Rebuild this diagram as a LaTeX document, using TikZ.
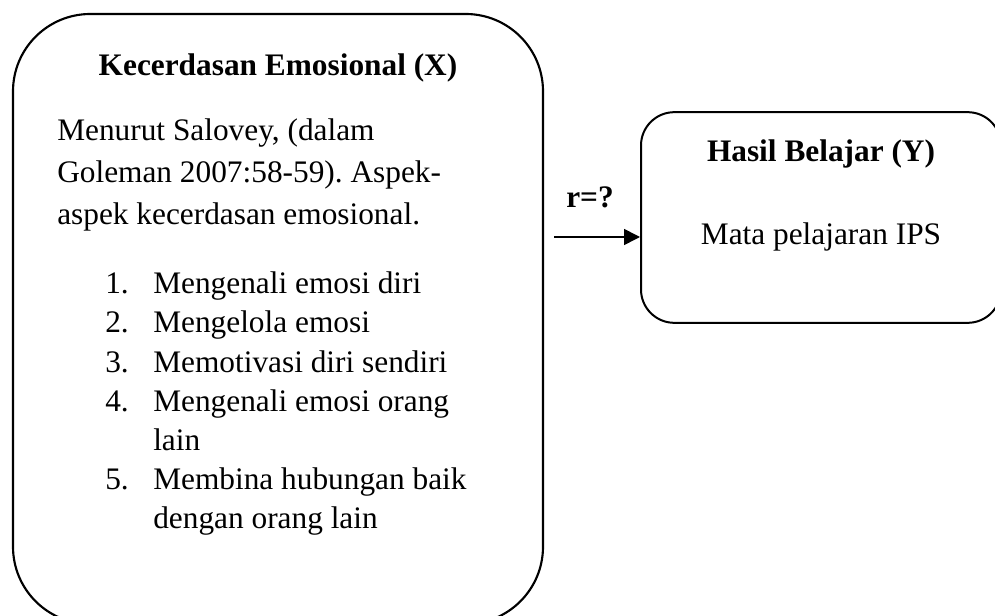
\documentclass[tikz,border=0pt]{standalone}
\usepackage{fontspec}
\setmainfont{Liberation Serif}
\usetikzlibrary{arrows.meta, positioning}
\frenchspacing

\begin{document}
\begin{tikzpicture}[
  x=0.75pt, y=-0.75pt,
  bigbox/.style={draw, line width=1.6pt, rounded corners=58pt,
                 minimum width=397.5pt, minimum height=457.5pt},
  ybox/.style  ={draw, line width=1.5pt, rounded corners=25pt,
                 minimum width=270pt, minimum height=158pt},
  txt/.style   ={inner sep=0pt, anchor=base west,
                 font=\fontsize{23.5pt}{30pt}\selectfont},
  ttl/.style   ={inner sep=0pt, anchor=base,
                 font=\fontsize{23.5pt}{30pt}\selectfont\bfseries},
  arr/.style={-{Triangle[length=12pt, width=12pt]}, line width=1.2pt}
]
\useasboundingbox (0,0) rectangle (995,616);

%% ---- Left: variable X ----
\node[bigbox] (X) at (278,319) {};
\node[ttl] (XT) at (278,76) {Kecerdasan Emosional (X)};
\node[txt] (L1) at (57,141) {Menurut Salovey, (dalam};
\node[txt] (L2) at (57,183) {Goleman 2007:58-59). Aspek-};
\node[txt] (L3) at (57,225) {aspek kecerdasan emosional.};

% list of aspects
\node[txt] (N1) at (105,294) {1.};
\node[txt] (A1) at (153,294) {Mengenali emosi diri};
\node[txt] (N2) at (105,333) {2.};
\node[txt] (A2) at (153,333) {Mengelola emosi};
\node[txt] (N3) at (105,372) {3.};
\node[txt] (A3) at (153,372) {Memotivasi diri sendiri};
\node[txt] (N4) at (105,411) {4.};
\node[txt] (A4) at (153,411) {Mengenali emosi orang};
\node[txt] (A4b) at (153,450) {lain};
\node[txt] (N5) at (105,489) {5.};
\node[txt] (A5) at (153,489) {Membina hubungan baik};
\node[txt] (A5b) at (153,528) {dengan orang lain};

%% ---- Right: variable Y ----
\node[ybox] (Y) at (821,217.5) {};
\node[ttl] (YT) at (821,162) {Hasil Belajar (Y)};
\node[ttl, font=\fontsize{23.5pt}{30pt}\selectfont] (YS) at (821,245) {Mata pelajaran IPS};

%% relation
\coordinate (RS) at (554,237);
\draw[arr] (RS) -- (Y.west |- RS);
\node[ttl] (R) at (590,208) {r=?};

\end{tikzpicture}
\end{document}
